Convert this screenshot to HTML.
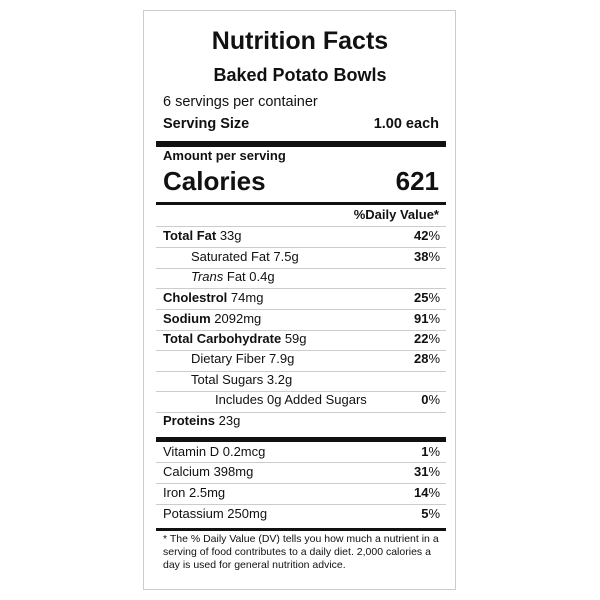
<!DOCTYPE html>
<html><head><style>
body{margin:0;width:600px;height:600px;background:#fff;font-family:"Liberation Sans",Arial,sans-serif;color:#111;position:relative;overflow:hidden}
.box{position:absolute;left:143px;top:10px;width:313px;height:580px;border:1px solid #ccc;box-sizing:border-box}
.t{position:absolute;white-space:nowrap}
.l{position:absolute;left:156px;width:290px;background:#111}
.hl{position:absolute;left:156px;width:290px;height:1px;background:#ccc}
.r{position:absolute;left:156px;width:284px;height:20px;line-height:20px;font-size:13px}
.r .a{position:absolute;left:7px}
.r .p{position:absolute;right:0;font-weight:bold}
.r .p span{font-weight:normal}
b{font-weight:bold}
</style></head><body>
<div class="box"></div>
<div class="t" style="left:0;width:600px;text-align:center;top:26px;font-size:25px;font-weight:bold;line-height:30px">Nutrition Facts</div>
<div class="t" style="left:0;width:600px;text-align:center;top:63px;font-size:18px;font-weight:bold;line-height:24px">Baked Potato Bowls</div>
<div class="t" style="left:163px;top:93px;font-size:14.5px;line-height:18px">6 servings per container</div>
<div class="t" style="left:163px;top:115px;font-size:14.5px;line-height:18px;font-weight:bold">Serving Size</div>
<div class="t" style="right:161px;top:115px;font-size:14.5px;line-height:18px;font-weight:bold">1.00 each</div>
<div class="l" style="top:141px;height:6px"></div>
<div class="t" style="left:163px;top:148px;font-size:13px;line-height:16px;font-weight:bold">Amount per serving</div>
<div class="t" style="left:163px;top:165px;font-size:26px;line-height:32px;font-weight:bold">Calories</div>
<div class="t" style="right:161px;top:165px;font-size:26px;line-height:32px;font-weight:bold">621</div>
<div class="l" style="top:202px;height:3px"></div>
<div class="t" style="right:161px;top:206px;font-size:13px;line-height:17px;font-weight:bold">%Daily Value*</div>
<div class="hl" style="top:226px"></div>
<div class="r" style="top:226px"><span class="a"><b>Total Fat</b> 33g</span><span class="p">42<span>%</span></span></div>
<div class="hl" style="top:247px"></div>
<div class="r" style="top:247px"><span class="a" style="left:35px">Saturated Fat 7.5g</span><span class="p">38<span>%</span></span></div>
<div class="hl" style="top:268px"></div>
<div class="r" style="top:267px"><span class="a" style="left:35px"><i>Trans</i> Fat 0.4g</span></div>
<div class="hl" style="top:288px"></div>
<div class="r" style="top:288px"><span class="a"><b>Cholestrol</b> 74mg</span><span class="p">25<span>%</span></span></div>
<div class="hl" style="top:309px"></div>
<div class="r" style="top:309px"><span class="a"><b>Sodium</b> 2092mg</span><span class="p">91<span>%</span></span></div>
<div class="hl" style="top:330px"></div>
<div class="r" style="top:329px"><span class="a"><b>Total Carbohydrate</b> 59g</span><span class="p">22<span>%</span></span></div>
<div class="hl" style="top:350px"></div>
<div class="r" style="top:349px"><span class="a" style="left:35px">Dietary Fiber 7.9g</span><span class="p">28<span>%</span></span></div>
<div class="hl" style="top:371px"></div>
<div class="r" style="top:370px"><span class="a" style="left:35px">Total Sugars 3.2g</span></div>
<div class="hl" style="top:391px"></div>
<div class="r" style="top:390px"><span class="a" style="left:59px">Includes 0g Added Sugars</span><span class="p">0<span>%</span></span></div>
<div class="hl" style="top:412px"></div>
<div class="r" style="top:411px"><span class="a"><b>Proteins</b> 23g</span></div>
<div class="l" style="top:437px;height:5px"></div>
<div class="r" style="top:442px"><span class="a">Vitamin D 0.2mcg</span><span class="p">1<span>%</span></span></div>
<div class="hl" style="top:462px"></div>
<div class="r" style="top:462px"><span class="a">Calcium 398mg</span><span class="p">31<span>%</span></span></div>
<div class="hl" style="top:483px"></div>
<div class="r" style="top:483px"><span class="a">Iron 2.5mg</span><span class="p">14<span>%</span></span></div>
<div class="hl" style="top:504px"></div>
<div class="r" style="top:504px"><span class="a">Potassium 250mg</span><span class="p">5<span>%</span></span></div>
<div class="l" style="top:528px;height:3px"></div>
<div class="t" style="left:163px;top:533px;font-size:10.5px;line-height:13px;white-space:normal;width:285px">* The % Daily Value (DV) tells you how much a nutrient in a serving of food contributes to a daily diet. 2,000 calories a day is used for general nutrition advice.</div>
</body></html>
